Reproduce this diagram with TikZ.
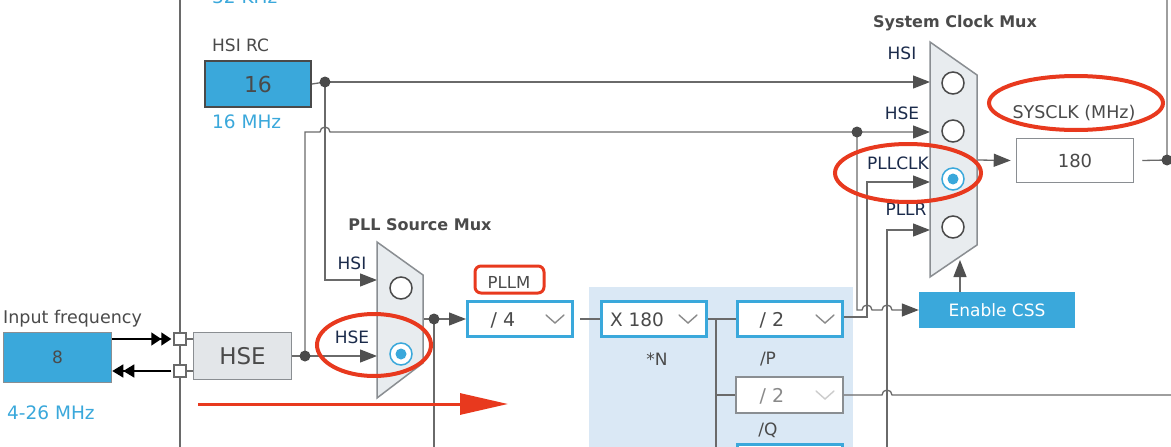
\documentclass[tikz,border=0pt]{standalone}
\usepackage{fontspec}
\setmainfont{DejaVu Sans}
\usetikzlibrary{arrows.meta}
\definecolor{stblue}{HTML}{3AA8DB}
\definecolor{wirec}{HTML}{6A6A6A}
\definecolor{tipc}{HTML}{505050}
\definecolor{txtgray}{HTML}{4A4A4A}
\definecolor{navy}{HTML}{1B2B4B}
\definecolor{muxfill}{HTML}{E8ECEF}
\definecolor{muxline}{HTML}{8A8E92}
\definecolor{pllbg}{HTML}{DAE8F5}
\definecolor{redmark}{HTML}{E8391E}
\definecolor{hsefill}{HTML}{E3E6E9}
\definecolor{chevc}{HTML}{8A8A8A}
\tikzset{
  wire/.style={draw=wirec, line width=1.3pt},
  arr/.style={wire, -{Triangle[length=17pt,width=13pt,color=tipc]}},
  jdot/.style={circle, fill=txtgray, inner sep=0pt, minimum size=11pt},
  lbl/.style={text=txtgray, font=\fontsize{17}{19}\selectfont, inner sep=0pt},
  bluelbl/.style={text=stblue, font=\fontsize{18.5}{20}\selectfont, inner sep=0pt},
  muxlbl/.style={text=navy, font=\fontsize{17}{19}\selectfont, inner sep=0pt},
  titlelbl/.style={text=txtgray, font=\fontsize{16}{18}\selectfont\bfseries, inner sep=0pt},
  divbox/.style={draw=stblue, line width=3pt, fill=white, minimum width=105pt, minimum height=35pt, inner sep=0pt},
  greybox/.style={draw=muxline, line width=1.5pt, fill=white, minimum width=107pt, minimum height=36pt, inner sep=0pt},
  radio/.style={circle, draw=txtgray, line width=1.5pt, fill=white, minimum size=22pt, inner sep=0pt},
  radiosel/.style={circle, draw=stblue, line width=1.5pt, fill=white, minimum size=22pt, inner sep=0pt},
  radiodot/.style={circle, fill=stblue, minimum size=11pt, inner sep=0pt},
  pinbox/.style={draw=wirec, line width=1.3pt, fill=white, minimum size=12pt, inner sep=0pt},
  redring/.style={draw=redmark, line width=4pt},
  chev/.pic={\draw[line width=1.4pt, line cap=round] (-9,-4) -- (0,4) -- (9,-4);},
}
\begin{document}
\begin{tikzpicture}[x=1pt,y=-1pt]
\useasboundingbox (0,0) rectangle (1171,447);
\fill[white] (0,0) rectangle (1171,447);
% PLL background area
\fill[pllbg] (589,287) rectangle (853,460);

% coordinates
\coordinate (hsidot) at (325,82);
\coordinate (hsedot) at (305,356);
\coordinate (hsedot2) at (857,132);
\coordinate (pllout) at (434,319);
\coordinate (njct) at (716,319);
\coordinate (sysdot) at (1167,160);
\coordinate (systop) at (1167,-5);
\coordinate (pmHSI) at (377,280);
\coordinate (pmHSE) at (377,356);
\coordinate (pmOut) at (423,319);
\coordinate (smHSI) at (930,82);
\coordinate (smHSE) at (930,132);
\coordinate (smPLL) at (930,182);
\coordinate (smPLLR) at (930,230);
\coordinate (smOut) at (977,160);
\coordinate (smBot) at (960,260);
\coordinate (pcol) at (867,182);
\coordinate (rcol) at (887,230);
\coordinate (rbot) at (887,460);
\coordinate (qend) at (1180,397);
\coordinate (lefttop) at (180,-5);
\coordinate (leftbot) at (180,460);
\coordinate (pllbot) at (434,460);
\coordinate (nbot) at (716,460);

% boxes
\node[draw=txtgray, line width=2pt, fill=stblue, minimum width=106pt, minimum height=46pt, inner sep=0pt,
      text=txtgray, font=\fontsize{22}{26}\selectfont] (hsirc) at (258,84) {16};
\node[draw=muxline, line width=1.5pt, fill=hsefill, minimum width=98pt, minimum height=47pt, inner sep=0pt,
      text=txtgray, font=\fontsize{23}{28}\selectfont] (hse) at (242.5,356) {HSE};
\node[draw=muxline, line width=1.5pt, fill=stblue, minimum width=108pt, minimum height=50pt, inner sep=0pt,
      text=txtgray, font=\fontsize{17}{20}\selectfont] (inf) at (57.5,357.5) {8};
\node[divbox] (pllm) at (520,319) {};
\node[divbox] (mulN) at (654,319) {};
\node[divbox] (divP) at (789.5,319) {};
\node[greybox] (divQ) at (789.5,395) {};
\node[divbox, anchor=north] (divR) at (789.5,443) {};
\node[draw=muxline, line width=1.5pt, fill=white, minimum width=117pt, minimum height=44pt, inner sep=0pt,
      text=txtgray, font=\fontsize{18}{20}\selectfont] (sysclk) at (1075,160.5) {180};
\node[fill=stblue, minimum width=156pt, minimum height=36pt, inner sep=0pt,
      text=white, font=\fontsize{17}{20}\selectfont] (css) at (997,310) {Enable CSS};

% left rail and pins
\draw[wire] (lefttop) -- (leftbot);
\node[pinbox] (pin1) at (180,339) {};
\node[pinbox] (pin2) at (180,371) {};
\draw[wire] (pin1.east) -- (pin1.east -| hse.west);
\draw[wire] (pin2.east) -- (pin2.east -| hse.west);
\draw[line width=1.3pt, black, -{Triangle[length=10pt,width=13pt] Triangle[length=10pt,width=13pt]}]
  (inf.east |- pin1) -- ([xshift=-2pt]pin1.west);
\draw[line width=1.3pt, black, -{Triangle[length=11pt,width=13pt] Triangle[length=11pt,width=13pt]}]
  ([xshift=-2pt]pin2.west) -- (inf.east |- pin2);

% wires
\draw[wire] (hsirc.east) -- (hsidot);
\draw[arr] (hsidot) -- (smHSI);
\draw[arr] (hsidot) |- (pmHSI);
\draw[wire] (hse.east) -- (hsedot);
\draw[arr] (hsedot) -- (pmHSE);
\draw[arr] (hsedot) -- (hsedot |- smHSE) -- ([xshift=-5pt]hsidot |- smHSE)
  arc[start angle=180, end angle=0, radius=5pt] -- (smHSE);
\draw[arr] (hsedot2) -- (hsedot2 |- css.west) -- ([xshift=-5pt]pcol |- css.west)
  arc[start angle=180, end angle=0, radius=5pt] -- ([xshift=-5pt]rcol |- css.west)
  arc[start angle=180, end angle=0, radius=5pt] -- (css.west);
\draw[wire] (pmOut) -- (pllout);
\draw[arr] (pllout) -- (pllm.west);
\draw[wire] (pllout) -- (pllbot);
\draw[wire] ([xshift=6pt]pllm.east) -- (mulN.west);
\draw[wire] (mulN.east) -- (njct);
\draw[wire] (njct) -- (divP.west);
\draw[wire] (njct) |- (divQ.west);
\draw[wire] (njct) -- (nbot);
\draw[arr] ([yshift=2pt]divP.east) -| (pcol) -- (smPLL);
\draw[arr] (rbot) -- (rcol) -- (smPLLR);
\draw[wire] (divQ.east) -- ([xshift=-5pt]rcol |- divQ.east)
  arc[start angle=180, end angle=0, radius=5pt] -- (qend |- divQ.east);
\draw[arr] (smOut) -- ([xshift=-5pt]sysclk.west);
\draw[wire] ([xshift=8pt]sysclk.east) -- (sysdot) -- (systop);
\draw[arr] (css.north -| smBot) -- (smBot);

% junction dots
\node[jdot] (d1) at (hsidot) {};
\node[jdot] (d2) at (hsedot) {};
\node[jdot] (d3) at (hsedot2) {};
\node[jdot] (d4) at (pllout) {};
\node[jdot] (d5) at (sysdot) {};

% muxes
\draw[draw=muxline, fill=muxfill, line width=1.5pt] (377,242) -- (423,275) -- (423,363) -- (377,398) -- cycle;
\draw[draw=muxline, fill=muxfill, line width=1.5pt] (930,42) -- (977,75) -- (977,245) -- (930,277) -- cycle;
\node[radio] (pmr1) at (401,288) {};
\node[radiosel] (pmr2) at (401,354) {};
\node[radiodot] (pmr2d) at (401,354) {};
\node[radio] (smr1) at (953,83) {};
\node[radio] (smr2) at (953,131) {};
\node[radiosel] (smr3) at (953,179) {};
\node[radiodot] (smr3d) at (953,179) {};
\node[radio] (smr4) at (953,227) {};

% texts inside dividers
\node[lbl, font=\fontsize{19}{21}\selectfont] (t4) at (503,320) {/ 4};
\node[lbl, font=\fontsize{18.5}{21}\selectfont] (t180) at (637,320) {X 180};
\node[lbl, font=\fontsize{19}{21}\selectfont] (tP) at (772,320) {/ 2};
\node[lbl, text=chevc, font=\fontsize{19}{21}\selectfont] (tQ) at (772,396) {/ 2};
\pic[chevc] at (555,319) {chev};
\pic[chevc] at (688,319) {chev};
\pic[chevc] at (825,319) {chev};
\pic[black!20] at (825,395) {chev};

% labels
\node[bluelbl, anchor=base west] (l32) at (212,4) {32 KHz};
\node[lbl, anchor=west] (lhsirc) at (212,45) {HSI RC};
\node[bluelbl, anchor=west] (l16) at (212,122) {16 MHz};
\node[lbl, font=\fontsize{17.5}{19}\selectfont, anchor=west] (linf) at (3,319) {Input frequency};
\node[bluelbl, anchor=west] (l426) at (7,413) {4-26 MHz};
\node[titlelbl] (lpsm) at (420,225) {PLL Source Mux};
\node[muxlbl] (lpHSI) at (352,263) {HSI};
\node[muxlbl] (lpHSE) at (352,337) {HSE};
\node[lbl, font=\fontsize{16.5}{19}\selectfont] (lpllm) at (509,282) {PLLM};
\node[lbl] (lN) at (657,359) {*N};
\node[lbl] (lP) at (768,359) {/P};
\node[lbl] (lQ) at (768,430) {/Q};
\node[titlelbl] (lscm) at (955,23) {System Clock Mux};
\node[muxlbl] (lsHSI) at (902,53) {HSI};
\node[muxlbl] (lsHSE) at (902,113) {HSE};
\node[muxlbl] (lsPLL) at (898,163) {PLLCLK};
\node[muxlbl] (lsPLLR) at (906,209) {PLLR};
\node[lbl, font=\fontsize{17.5}{19}\selectfont] (lsys) at (1074,113) {SYSCLK (MHz)};

% red annotations
\draw[redring] (1076,103) ellipse[x radius=87pt, y radius=27pt];
\draw[redring] (908,173) ellipse[x radius=73pt, y radius=29pt];
\draw[redring] (374,345) ellipse[x radius=57pt, y radius=31pt];
\draw[draw=redmark, line width=3pt, rounded corners=6pt] (475,266) rectangle (544,293);
\draw[draw=redmark, line width=3pt, -{Triangle[length=48pt,width=21pt]}] (198,404) -- (508,404);
\end{tikzpicture}
\end{document}
